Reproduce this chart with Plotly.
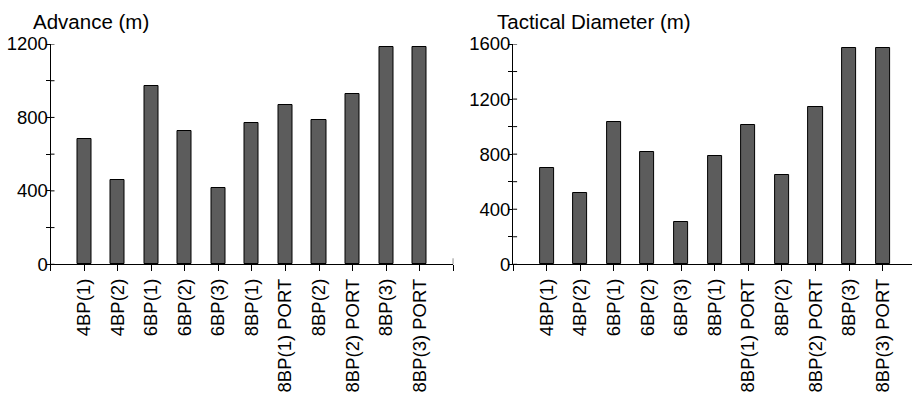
import plotly.graph_objects as go

# Manoeuvre configurations and their turning-circle results
categories = ["4BP(1)", "4BP(2)", "6BP(1)", "6BP(2)", "6BP(3)", "8BP(1)",
              "8BP(1) PORT", "8BP(2)", "8BP(2) PORT", "8BP(3)", "8BP(3) PORT"]
advance_m = [685, 460, 970, 725, 415, 770, 870, 785, 925, 1185, 1185]
tactical_diameter_m = [700, 515, 1035, 815, 305, 790, 1015, 650, 1145, 1570, 1570]

adv_ticks = [0, 200, 400, 600, 800, 1000, 1200]
adv_labels = ["0", "", "400", "", "800", "", "1200"]
td_ticks = [0, 200, 400, 600, 800, 1000, 1200, 1400, 1600]
td_labels = ["0", "", "400", "", "800", "", "1200", "", "1600"]

FONT = "Liberation Sans, Arial, Helvetica, sans-serif"
W, H = 912, 402

positions = list(range(len(categories)))

bar_marker = dict(color="#5c5c5c", line=dict(color="black", width=1))

fig = go.Figure()
fig.add_trace(go.Bar(x=positions, y=advance_m, width=0.42, marker=bar_marker,
                     xaxis="x", yaxis="y", showlegend=False))
fig.add_trace(go.Bar(x=positions, y=tactical_diameter_m, width=0.42, marker=bar_marker,
                     xaxis="x2", yaxis="y2", showlegend=False))

ydom = [1 - 264.3 / H, 1 - 44 / H]
left_x0, left_x1 = 50.5 / W, 453.3 / W
right_x0 = 513.1 / W

common_x = dict(showgrid=False, zeroline=False, showline=True, linecolor="black",
                linewidth=1, ticks="outside", ticklen=6, tickcolor="black",
                tickangle=-90, tickfont=dict(family=FONT, size=18.5, color="black"),
                automargin=False)
common_y = dict(showgrid=False, zeroline=False, showline=True, linecolor="black",
                linewidth=1, ticks="outside", ticklen=4, tickcolor="black",
                tickfont=dict(family=FONT, size=18.5, color="black"),
                ticklabelstandoff=-6, automargin=False)

# inner halves of the y tick marks, so each tick crosses its axis line
TICK_IN_PX = 4
shapes = []
for ticks, xref, yref, width_px in ((adv_ticks, "x domain", "y", (left_x1 - left_x0) * W),
                                    (td_ticks, "x2 domain", "y2", (1.0 - right_x0) * W)):
    for t in ticks:
        shapes.append(dict(type="line", xref=xref, yref=yref, x0=0,
                           x1=TICK_IN_PX / width_px, y0=t, y1=t,
                           line=dict(color="black", width=1)))
# upper half of the closing tick at the right end of the first category axis
shapes.append(dict(type="line", xref="x", yref="y domain", x0=11, x1=11,
                   y0=0, y1=6 / ((ydom[1] - ydom[0]) * H),
                   line=dict(color="black", width=1)))

fig.update_layout(
    template="none",
    width=W, height=H,
    margin=dict(l=0, r=0, t=0, b=0, pad=0),
    paper_bgcolor="white", plot_bgcolor="white",
    xaxis=dict(common_x, domain=[left_x0, left_x1], range=[-1, 11],
               tickvals=[-1] + positions + [11], ticktext=[""] + categories + [""],
               anchor="y"),
    xaxis2=dict(common_x, domain=[right_x0, 1.0], range=[-1, 10.87],
                tickvals=[-1] + positions, ticktext=[""] + categories, anchor="y2"),
    yaxis=dict(common_y, domain=ydom, range=[0, 1200], tickvals=adv_ticks,
               ticktext=adv_labels, anchor="x"),
    yaxis2=dict(common_y, domain=ydom, range=[0, 1600], tickvals=td_ticks,
                ticktext=td_labels, anchor="x2"),
    shapes=shapes,
    annotations=[
        dict(text="Advance (m)", x=31 / W, y=1 - 21 / H, xref="paper", yref="paper",
             xanchor="left", yanchor="middle", showarrow=False,
             font=dict(family=FONT, size=20.5, color="black")),
        dict(text="Tactical Diameter (m)", x=495 / W, y=1 - 21 / H, xref="paper",
             yref="paper", xanchor="left", yanchor="middle", showarrow=False,
             font=dict(family=FONT, size=20.5, color="black")),
    ],
    bargap=0,
)

fig.write_html("out.html")
